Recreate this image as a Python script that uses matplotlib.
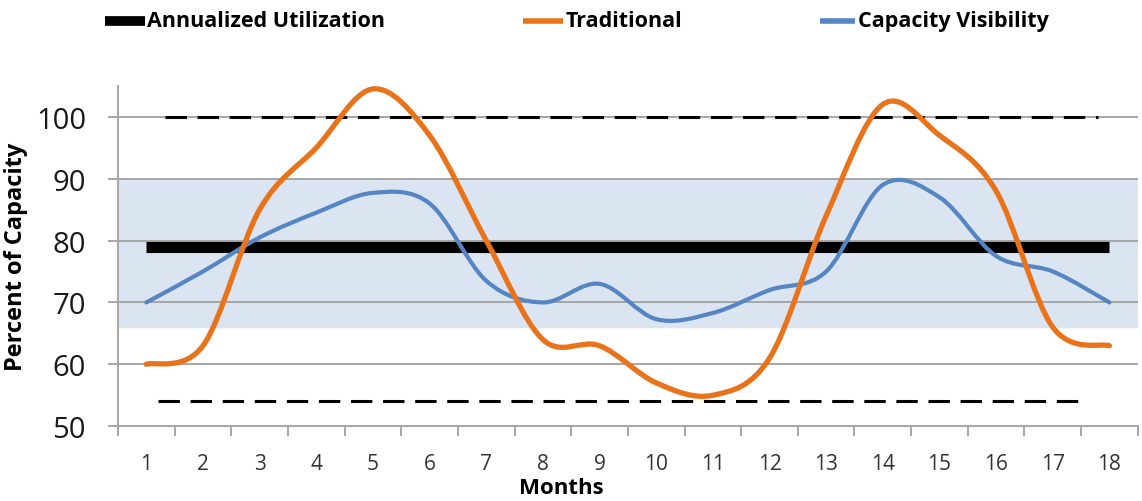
import matplotlib
matplotlib.use("Agg")
import matplotlib.pyplot as plt
from matplotlib.path import Path
from matplotlib.patches import PathPatch
from matplotlib.lines import Line2D

# monthly capacity usage, percent
months = list(range(1, 19))
traditional = [60, 63, 85, 95, 104.5, 97, 80, 64, 63, 57, 55, 61, 84, 102, 97, 88, 66, 63]
visibility = [70, 75, 80.5, 84.5, 87.7, 86, 73.5, 70, 73, 67.3, 68.3, 72, 75, 89, 87, 77.5, 75, 70]
annualized = 79
band_low, band_high = 66, 90
upper_limit, lower_limit = 100, 54

ORANGE = "#e8731a"
BLUE = "#5585c3"
BAND = "#dbe5f1"
GRID = "#a6a6a6"

plt.rcParams["font.family"] = ["Open Sans", "DejaVu Sans"]


def smooth_path(xs, ys):
    # catmull-rom style bezier through every point (like a "smoothed line")
    pts = list(zip(xs, ys))
    verts = [pts[0]]
    codes = [Path.MOVETO]
    n = len(pts)
    for i in range(n - 1):
        p0 = pts[i - 1] if i > 0 else pts[i]
        p1 = pts[i]
        p2 = pts[i + 1]
        p3 = pts[i + 2] if i + 2 < n else pts[i + 1]
        c1 = (p1[0] + (p2[0] - p0[0]) / 6, p1[1] + (p2[1] - p0[1]) / 6)
        c2 = (p2[0] - (p3[0] - p1[0]) / 6, p2[1] - (p3[1] - p1[1]) / 6)
        verts += [c1, c2, p2]
        codes += [Path.CURVE4] * 3
    return Path(verts, codes)


fig = plt.figure(figsize=(11.42, 5.02), dpi=100)
ax = fig.add_axes([0.1033, 0.149, 0.893, 0.678])

ax.set_xlim(0.5, 18.5)
ax.set_ylim(50, 105)

# target band, gridlines
ax.axhspan(band_low, band_high, color=BAND, zorder=0)
for v in [60, 70, 80, 90, 100]:
    ax.axhline(v, color=GRID, lw=1.4, zorder=1)

ax.plot([months[0], months[-1]], [annualized, annualized], color="black", lw=8, solid_capstyle="butt", zorder=3)
ax.plot([1.33, 17.8], [upper_limit, upper_limit], color="black", lw=2.2, dashes=(7, 3.5), zorder=3)
ax.plot([1.2, 17.6], [lower_limit, lower_limit], color="black", lw=2.2, dashes=(7, 3.5), zorder=3)

ax.add_patch(PathPatch(smooth_path(months, visibility), fill=False, edgecolor=BLUE, lw=3, capstyle="round", zorder=4))
ax.add_patch(PathPatch(smooth_path(months, traditional), fill=False, edgecolor=ORANGE, lw=3.8, capstyle="round", zorder=5))

for s in ["top", "right"]:
    ax.spines[s].set_visible(False)
for s in ["left", "bottom"]:
    ax.spines[s].set_color(GRID)
    ax.spines[s].set_linewidth(1.4)

ax.set_yticks([50, 60, 70, 80, 90, 100])
ax.tick_params(axis="y", length=7, width=1.4, color=GRID, labelsize=21, labelcolor="#1a1a1a", pad=16)
ax.set_xticks(months)
ax.set_xticks([m + 0.5 for m in [0] + months], minor=True)
ax.tick_params(axis="x", which="major", length=0, labelsize=15, labelcolor="#333333", pad=19)
ax.tick_params(axis="x", which="minor", length=7, width=1.4, color=GRID)

ax.set_ylabel("Percent of Capacity", fontsize=17, fontweight="bold", labelpad=6)
ax.set_xlabel("Months", fontsize=16, fontweight="bold")
ax.xaxis.set_label_coords(0.435, -0.148)

# legend row along the top
legend_items = [("Annualized Utilization", "black", 0.092, 0.127),
                ("Traditional", ORANGE, 0.458, 0.493),
                ("Capacity Visibility", BLUE, 0.718, 0.749)]
for label, col, x0, x1 in legend_items:
    lw = 7 if col == "black" else 4
    fig.add_artist(Line2D([x0, x1], [0.957, 0.957], color=col, lw=lw, solid_capstyle="butt", transform=fig.transFigure))
    fig.text(x1 + 0.002, 0.957, label, fontsize=15.5, fontweight="bold", va="center", ha="left")

fig.savefig("out.png", dpi=100)
